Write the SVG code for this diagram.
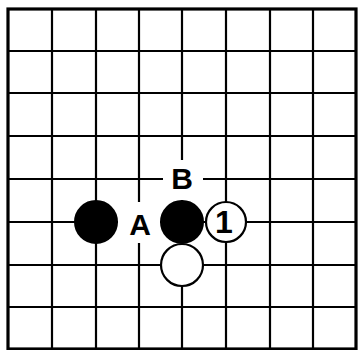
<svg xmlns="http://www.w3.org/2000/svg" width="358" height="350" viewBox="0 0 358 350">
<style>
.g{stroke:#000;stroke-width:2.2;fill:none}
.b{stroke:#000;stroke-width:3.2;fill:none}
.bk{fill:#000;stroke:#000;stroke-width:2}
.wh{fill:#fff;stroke:#000;stroke-width:2.2}
.t{font-family:"Liberation Sans",Arial,sans-serif;font-weight:bold;font-size:30px;fill:#000;text-anchor:middle}
.n{font-size:32px}
</style>
<rect width="358" height="350" fill="#fff"/>
<g id="connectors">
<path class="g" d="M52 9V349M96 9V349M139 9V349M182 9V349M226 9V349M270 9V349M313 9V349M8 51H356M8 93H356M8 136H356M8 179H356M8 222H356M8 265H356M8 307H356"/>
<rect class="b" x="8" y="9" width="348" height="340"/>
</g>
<g id="labelA"><rect x="118" y="202" width="42" height="41" fill="#fff"/><text class="t" x="140" y="235">A</text></g>
<g id="labelB"><rect x="163" y="160" width="40" height="40" fill="#fff"/><text class="t" x="182" y="189">B</text></g>
<g id="black1"><circle class="bk" cx="96" cy="222" r="21"/></g>
<g id="black2"><circle class="bk" cx="182" cy="222" r="21"/></g>
<g id="white1"><circle class="wh" cx="226" cy="222" r="20"/><text class="t n" x="224" y="233">1</text></g>
<g id="white2"><circle class="wh" cx="182" cy="265" r="21"/></g>
</svg>
